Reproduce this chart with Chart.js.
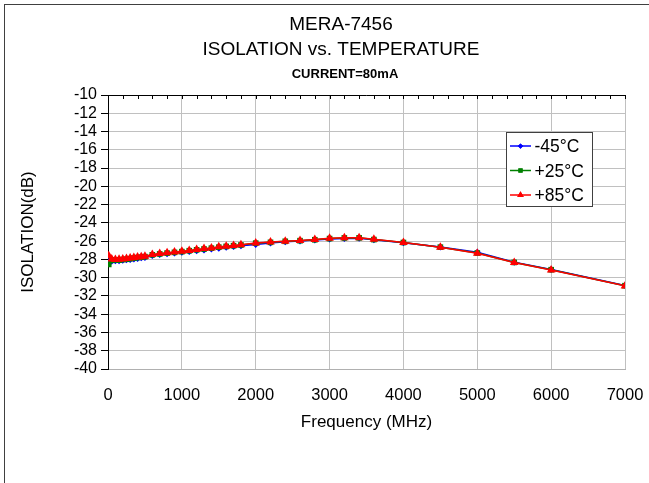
<!DOCTYPE html>
<html><head><meta charset="utf-8">
<script src="https://cdn.jsdelivr.net/npm/chart.js@4/dist/chart.umd.min.js"></script>
<style>html,body{margin:0;padding:0;background:#fff;}#wrap{width:649px;height:483px;position:relative;}</style>
</head><body><div id="wrap"><canvas id="c" width="649" height="483"></canvas></div>
<script>
const titleLines = ['MERA-7456', 'ISOLATION vs. TEMPERATURE'];
const subtitleText = 'CURRENT=80mA';
const xTitleText = 'Frequency (MHz)';
const yTitleText = 'ISOLATION(dB)';
const seriesNames = ['-45°C', '+25°C', '+85°C'];
const xTickValues = [0, 1000, 2000, 3000, 4000, 5000, 6000, 7000];
const yTickValues = [-10, -12, -14, -16, -18, -20, -22, -24, -26, -28, -30, -32, -34, -36, -38, -40];

const freqMHz = [10,50,100,150,200,250,300,350,400,450,500,
  600,700,800,900,1000,1100,1200,1300,1400,1500,1600,1700,1800,
  2000,2200,2400,2600,2800,3000,3200,3400,3600,
  4000,4500,5000,5500,6000,7000];
const isoM45 = [-28.2,-28.2,-28.15,-28.15,-28.1,-28.05,-28.0,-27.95,-27.9,-27.82,-27.78,
  -27.58,-27.46,-27.37,-27.30,-27.22,-27.14,-27.06,-26.96,-26.86,-26.78,-26.68,-26.60,-26.50,
  -26.38,-26.20,-26.08,-25.98,-25.88,-25.76,-25.70,-25.68,-25.86,
  -26.18,-26.64,-27.22,-28.30,-29.10,-30.85];
const isoP25 = [-28.55,-28.1,-28.05,-28.08,-28.02,-27.98,-27.92,-27.86,-27.80,-27.76,-27.70,
  -27.50,-27.40,-27.31,-27.23,-27.15,-27.05,-26.95,-26.86,-26.77,-26.66,-26.58,-26.50,-26.42,
  -26.22,-26.13,-26.02,-25.95,-25.85,-25.72,-25.65,-25.64,-25.83,
  -26.15,-26.66,-27.30,-28.33,-29.13,-30.88];
const isoP85 = [-27.6,-27.95,-28.0,-27.98,-27.95,-27.9,-27.85,-27.8,-27.74,-27.7,-27.66,
  -27.46,-27.36,-27.28,-27.2,-27.12,-27.02,-26.92,-26.82,-26.74,-26.62,-26.55,-26.47,-26.4,
  -26.2,-26.1,-26.0,-25.93,-25.82,-25.69,-25.62,-25.62,-25.8,
  -26.14,-26.67,-27.32,-28.35,-29.16,-30.9];

const FONT = '"Liberation Sans", Arial, sans-serif';
const toXY = (ys) => freqMHz.map((f, i) => ({x: f, y: ys[i]}));

const seriesStyle = [
  {color: '#0000ff', style: 'rectRot', r: 3.5, order: 2},
  {color: '#008000', style: 'rect', r: 4, order: 1},
  {color: '#ff0000', style: 'triangle', r: 5, order: 0}
];
const seriesData = [isoM45, isoP25, isoP85];

const datasets = seriesData.map((d, i) => ({
  label: seriesNames[i],
  data: toXY(d),
  showLine: true,
  borderColor: seriesStyle[i].color,
  backgroundColor: seriesStyle[i].color,
  borderWidth: 1.5,
  pointStyle: seriesStyle[i].style,
  pointRadius: seriesStyle[i].r,
  pointBorderWidth: 0,
  order: seriesStyle[i].order,
  tension: 0
}));

const decor = {
  id: 'decor',
  beforeDraw(chart) {
    const ctx = chart.ctx;
    ctx.save();
    ctx.fillStyle = '#fff';
    ctx.fillRect(0, 0, chart.width, chart.height);
    ctx.restore();
  },
  afterDraw(chart) {
    const ctx = chart.ctx;
    const a = chart.chartArea;
    const xs = chart.scales.x;
    ctx.save();
    ctx.strokeStyle = '#404040';
    ctx.lineWidth = 1;
    ctx.strokeRect(4.5, 4.5, 800, 800);
    ctx.strokeStyle = '#000';
    ctx.beginPath();
    ctx.moveTo(a.left, Math.round(a.top) + 0.5);
    ctx.lineTo(a.right, Math.round(a.top) + 0.5);
    for (let f = 0; f <= 7000; f += 200) {
      const px = Math.round(xs.getPixelForValue(f)) + 0.5;
      ctx.moveTo(px, a.top);
      ctx.lineTo(px, a.top + 4);
    }
    ctx.stroke();
    ctx.fillStyle = '#000';
    ctx.textAlign = 'center';
    ctx.textBaseline = 'alphabetic';
    ctx.font = '19px ' + FONT;
    ctx.fillText(titleLines[0], 341, 30);
    ctx.fillText(titleLines[1], 341, 55);
    ctx.font = 'bold 13px ' + FONT;
    ctx.fillText(subtitleText, 345, 77.5);
    ctx.font = '17px ' + FONT;
    ctx.fillText(xTitleText, (a.left + a.right) / 2, 427);
    ctx.save();
    ctx.translate(32.5, (a.top + a.bottom) / 2);
    ctx.rotate(-Math.PI / 2);
    ctx.fillText(yTitleText, 0, 0);
    ctx.restore();
    ctx.fillStyle = '#fff';
    ctx.fillRect(506, 132, 87, 75);
    ctx.strokeStyle = '#404040';
    ctx.strokeRect(506.5, 132.5, 86, 74);
    ctx.textAlign = 'left';
    ctx.font = '17.5px ' + FONT;
    const rows = [146, 170.5, 195];
    chart.data.datasets.forEach((ds, i) => {
      const y = rows[i];
      ctx.strokeStyle = ds.borderColor;
      ctx.lineWidth = 1.5;
      ctx.beginPath();
      ctx.moveTo(510, y);
      ctx.lineTo(531, y);
      ctx.stroke();
      ctx.fillStyle = ds.borderColor;
      ctx.beginPath();
      Chart.helpers.drawPoint(ctx, {pointStyle: ds.pointStyle, radius: ds.pointRadius * 0.75, borderWidth: 0, rotation: 0}, 520.5, y);
      ctx.fill();
      ctx.fillStyle = '#000';
      ctx.fillText(ds.label, 534.5, y + 6.2);
    });
    ctx.restore();
  }
};

new Chart(document.getElementById('c'), {
  type: 'scatter',
  data: {datasets},
  options: {
    responsive: false,
    animation: false,
    events: [],
    layout: {padding: {left: 0, top: 95, right: 24, bottom: 0}},
    plugins: {legend: {display: false}, title: {display: false}, tooltip: {enabled: false}},
    scales: {
      x: {
        type: 'linear', min: 0, max: 7000,
        afterBuildTicks: (s) => { s.ticks = xTickValues.map(v => ({value: v})); },
        afterFit: (s) => { s.height = 114; s.paddingLeft = 0; s.paddingRight = 0; },
        ticks: {color: '#000', font: {family: FONT, size: 16.5}, padding: 17, maxRotation: 0, autoSkip: false, callback: (v) => String(v)},
        grid: {color: '#c0c0c0', lineWidth: 1, drawTicks: false},
        border: {display: true, color: '#b0b0b0', width: 1}
      },
      y: {
        type: 'linear', min: -40, max: -10,
        afterBuildTicks: (s) => { s.ticks = yTickValues.map(v => ({value: v})); },
        afterFit: (s) => { s.width = 108; s.paddingTop = 0; s.paddingBottom = 0; },
        ticks: {color: '#000', font: {family: FONT, size: 16}, padding: 4, autoSkip: false, callback: (v) => String(v)},
        grid: {color: '#c0c0c0', lineWidth: 1, drawTicks: true, tickLength: 7, tickColor: '#000'},
        border: {display: true, color: '#000', width: 1}
      }
    }
  },
  plugins: [decor]
});
</script></body></html>
